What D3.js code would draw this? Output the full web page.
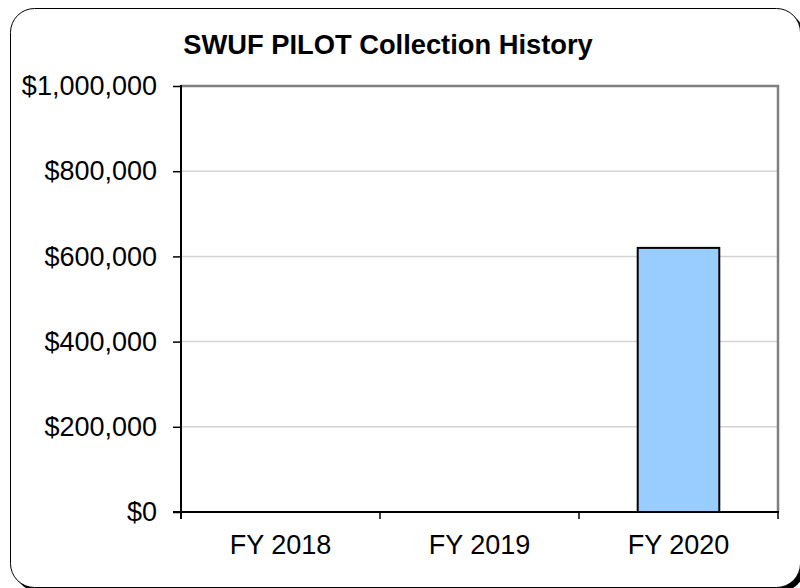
<!DOCTYPE html>
<html>
<head>
<meta charset="utf-8">
<script src="https://cdn.jsdelivr.net/npm/d3@7"></script>
<style>
  html, body { margin: 0; padding: 0; background: #ffffff; }
  svg { display: block; font-family: "Liberation Sans", Arial, sans-serif; }
</style>
</head>
<body>
<div id="chart-container"></div>
<script>
// chart data
const categories = ["FY 2018", "FY 2019", "FY 2020"];
const collections = [0, 0, 620000];
const yTicks = [0, 200000, 400000, 600000, 800000, 1000000];

const W = 800, H = 588;
const margin = { top: 86, right: 22, bottom: 76, left: 181 };
const width = W - margin.left - margin.right;
const height = H - margin.top - margin.bottom;

const svg = d3.select("#chart-container")
  .append("svg")
  .attr("width", W)
  .attr("height", H);

// rounded frame, its dark shadow only shows in the bottom right corner
svg.append("rect")
  .attr("x", 14.5).attr("y", 12.5)
  .attr("width", 790).attr("height", 579)
  .attr("rx", 24).attr("ry", 24)
  .attr("fill", "#000000");
svg.append("rect")
  .attr("x", 10.5).attr("y", 8.5)
  .attr("width", 790).attr("height", 579)
  .attr("rx", 24).attr("ry", 24)
  .attr("fill", "#ffffff")
  .attr("stroke", "#000000")
  .attr("stroke-width", 1);

// title
svg.append("text")
  .attr("x", 388)
  .attr("y", 54)
  .attr("text-anchor", "middle")
  .style("font-size", "27.3px")
  .style("font-weight", "bold")
  .attr("fill", "#000000")
  .text("SWUF PILOT Collection History");

const g = svg.append("g")
  .attr("transform", `translate(${margin.left},${margin.top})`);

const x = d3.scaleBand()
  .domain(categories)
  .range([0, width])
  .paddingInner(0)
  .paddingOuter(0);

const y = d3.scaleLinear()
  .domain([0, 1000000])
  .range([height, 0]);

// gridlines
g.selectAll(".grid")
  .data(yTicks.slice(1, -1))
  .join("line")
  .attr("x1", 0)
  .attr("x2", width)
  .attr("y1", d => y(d))
  .attr("y2", d => y(d))
  .attr("stroke", "#d4d4d4")
  .attr("stroke-width", 1.5);

// top and right plot border (grey)
g.append("path")
  .attr("d", `M0,${y(1000000)}H${width}V${height}`)
  .attr("fill", "none")
  .attr("stroke", "#808080")
  .attr("stroke-width", 2.5);

// bars
const barW = x.bandwidth() * 0.41;
g.selectAll(".bar")
  .data(categories.map((c, i) => ({ c, v: collections[i] })).filter(d => d.v > 0))
  .join("rect")
  .attr("x", d => x(d.c) + (x.bandwidth() - barW) / 2)
  .attr("y", d => y(d.v))
  .attr("width", barW)
  .attr("height", d => height - y(d.v))
  .attr("fill", "#99ccff")
  .attr("stroke", "#000000")
  .attr("stroke-width", 2);

// y axis
g.append("g")
  .call(d3.axisLeft(y)
    .tickValues(yTicks)
    .tickSize(8)
    .tickPadding(16)
    .tickFormat(d => "$" + d3.format(",")(d)))
  .call(ax => ax.select(".domain").remove())
  .call(ax => ax.selectAll(".tick line").attr("stroke", "#000000").attr("stroke-width", 1.5))
  .call(ax => ax.selectAll(".tick text")
    .style("font-size", "27px")
    .style("font-family", "'Liberation Sans', Arial, sans-serif")
    .attr("fill", "#000000"));

// x axis: ticks at category boundaries
const xBounds = categories.map(c => x(c)).concat([width]);
g.selectAll(".xtick")
  .data(xBounds)
  .join("line")
  .attr("x1", d => d)
  .attr("x2", d => d)
  .attr("y1", height)
  .attr("y2", height + 7)
  .attr("stroke", "#000000")
  .attr("stroke-width", 1.5);

g.selectAll(".xlabel")
  .data(categories)
  .join("text")
  .attr("x", d => x(d) + x.bandwidth() / 2)
  .attr("y", height + 42)
  .attr("text-anchor", "middle")
  .style("font-size", "27px")
  .attr("fill", "#000000")
  .text(d => d);

// axis lines
g.append("line")
  .attr("x1", 0).attr("x2", 0)
  .attr("y1", -1).attr("y2", height + 7)
  .attr("stroke", "#000000")
  .attr("stroke-width", 2);
g.append("line")
  .attr("x1", -8).attr("x2", width + 1)
  .attr("y1", height).attr("y2", height)
  .attr("stroke", "#000000")
  .attr("stroke-width", 2);
</script>
</body>
</html>
